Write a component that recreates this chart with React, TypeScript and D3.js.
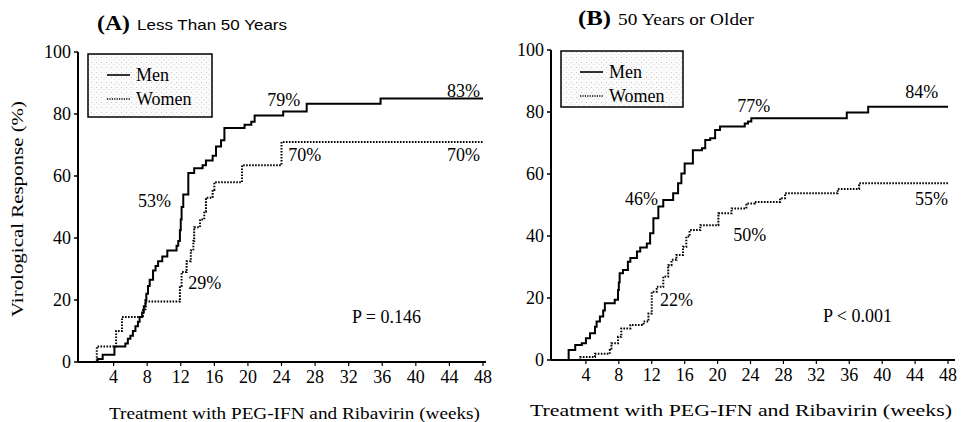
import React from 'react';
import * as d3 from 'd3';

type Pt = [number, number];

// weeks on x, percent responders on y
const weekTicks = [4, 8, 12, 16, 20, 24, 28, 32, 36, 40, 44, 48];
const pctTicks = [0, 20, 40, 60, 80, 100];

const menYoung: Pt[] = [
  [0, 0], [2.1, 1], [2.7, 2.3], [4.1, 5], [5.4, 6], [5.7, 7.5], [6.0, 8.5], [6.3, 10], [6.6, 11.5],
  [6.9, 13], [7.1, 14.5], [7.4, 16], [7.6, 18], [7.8, 20], [7.9, 22], [8.1, 24.5], [8.3, 26.5],
  [8.7, 29.5], [9.0, 31], [9.3, 32.5], [9.8, 34], [10.4, 36], [11.5, 37.5], [11.7, 39], [11.9, 42.5],
  [12.0, 46], [12.1, 50], [12.3, 54], [12.9, 61], [13.6, 62.5], [14.6, 63.5], [15, 65], [15.8, 66.5],
  [16.2, 69.5], [16.8, 71.5], [17.2, 75.5], [19.6, 76.5], [20.4, 77.5], [20.8, 79.5], [24.2, 80.8],
  [27, 83.3], [35.8, 85], [48, 85],
];
const womenYoung: Pt[] = [
  [0, 0], [2, 5], [4.3, 10], [5.0, 14.5], [7.5, 17], [7.8, 19.5], [11.9, 24.5], [12.1, 29], [12.7, 32.5],
  [13.2, 36], [13.5, 39], [13.6, 43.5], [14.3, 46], [14.8, 48.5], [15, 53], [15.8, 55.5], [16, 58],
  [19.3, 63.5], [24, 71], [48, 71],
];
const menOld: Pt[] = [
  [0, 0], [1.9, 3.2], [2.7, 4.8], [3.5, 5.4], [4.0, 7], [4.5, 8.6], [5.1, 10.7], [5.3, 12.4], [5.7, 14],
  [6.1, 16], [6.3, 18.3], [7.5, 19.4], [7.9, 22.6], [8.0, 25], [8.1, 28], [8.5, 29], [9.1, 31.7],
  [9.4, 32.9], [10.2, 35], [10.6, 36.3], [11.4, 37.6], [11.8, 40.9], [12.2, 45.7], [12.8, 49.5],
  [13.4, 51.6], [14.6, 53.8], [15.2, 57], [15.6, 60.2], [16, 63.4], [17, 67.7], [18.1, 68.3], [18.5, 71],
  [19.1, 71.5], [19.7, 74.2], [20.3, 75.3], [23.3, 76.3], [23.7, 76.9], [24.1, 78], [35.7, 79.8],
  [38.3, 81.7], [48, 81.7],
];
const womenOld: Pt[] = [
  [0, 0], [3.3, 1], [5.1, 2], [6.9, 3.2], [7.1, 5.4], [7.9, 7.5], [8.3, 10.2], [9.4, 11.3], [11, 12.4],
  [11.6, 15], [12, 22], [12.6, 23.6], [13.4, 26.9], [14, 30.6], [14.4, 32.3], [15, 33.9], [15.8, 36.5],
  [16.2, 39.8], [16.6, 41.9], [17.9, 43.5], [20.1, 47.3], [21.7, 48.9], [23.5, 50.5], [24.5, 51],
  [27.6, 52.2], [28.2, 53.8], [34.6, 55.2], [37.2, 57], [48, 57],
];

type Note = { text: string; week: number; pct: number };
const notesYoung: Note[] = [
  { text: '83%', week: 43.7, pct: 85.5 },
  { text: '79%', week: 22.3, pct: 82.6 },
  { text: '53%', week: 6.9, pct: 50 },
  { text: '70%', week: 24.8, pct: 64.8 },
  { text: '70%', week: 43.7, pct: 64.8 },
  { text: '29%', week: 12.9, pct: 23.5 },
  { text: 'P = 0.146', week: 32.4, pct: 12.6 },
];
const notesOld: Note[] = [
  { text: '77%', week: 22.4, pct: 80 },
  { text: '84%', week: 42.8, pct: 84.5 },
  { text: '46%', week: 8.75, pct: 50 },
  { text: '50%', week: 21.9, pct: 38.4 },
  { text: '55%', week: 44, pct: 50 },
  { text: '22%', week: 13, pct: 17.4 },
  { text: 'P < 0.001', week: 32.8, pct: 12.3 },
];

const serif = '"Liberation Serif", "DejaVu Serif", serif';
const sans = '"Liberation Sans", Arial, sans-serif';

interface PanelProps {
  letter: string;
  subtitle: string;
  subtitleFont: string;
  subtitleLen: number;
  x0: number; x1: number; y0: number; y1: number;
  axisEnd: number;
  men: Pt[];
  women: Pt[];
  notes: Note[];
  legend: { x: number; y: number; w: number; h: number };
  titleX: number;
  titleY: number;
  xTitleStart: number;
  xTitleLen: number;
  xTitleY: number;
  yTitle?: boolean;
}

const Panel: React.FC<PanelProps> = (p) => {
  const x = d3.scaleLinear().domain([0, 48]).range([p.x0, p.x1]);
  const y = d3.scaleLinear().domain([0, 100]).range([p.y0, p.y1]);
  const line = d3.line<Pt>().x(d => x(d[0])).y(d => y(d[1])).curve(d3.curveStepAfter);
  const axisX = x(0) - 2;
  const lg = p.legend;

  return (
    <g>
      {/* title */}
      <text x={p.titleX} y={p.titleY} fontFamily={serif} fontSize={20} fontWeight="bold"
        textLength={33} lengthAdjust="spacingAndGlyphs">({p.letter})</text>
      <text x={p.titleX + 40} y={p.titleY} fontFamily={p.subtitleFont} fontSize={p.subtitleFont === sans ? 15 : 16.5}
        textLength={p.subtitleLen} lengthAdjust="spacingAndGlyphs">
        {p.subtitle}
      </text>

      {/* legend */}
      <rect x={lg.x} y={lg.y} width={lg.w} height={lg.h} fill="url(#stipple)" stroke="#000" strokeWidth={1.5} />
      <line x1={lg.x + 19} x2={lg.x + 42} y1={lg.y + 21} y2={lg.y + 21} stroke="#000" strokeWidth={1.6} />
      <text x={lg.x + 48} y={lg.y + 27} fontFamily={serif} fontSize={18}>Men</text>
      <line x1={lg.x + 19} x2={lg.x + 42} y1={lg.y + 45} y2={lg.y + 45} stroke="#000" strokeWidth={1.4} strokeDasharray="1.2,1.2" />
      <text x={lg.x + 48} y={lg.y + 51} fontFamily={serif} fontSize={18}>Women</text>

      {/* curves */}
      <path d={line(p.women) ?? ''} fill="none" stroke="#000" strokeWidth={2} strokeDasharray="1.6,1.4" />
      <path d={line(p.men) ?? ''} fill="none" stroke="#000" strokeWidth={2} />

      {/* axes */}
      <line x1={axisX} x2={axisX} y1={y(100)} y2={y(0)} stroke="#000" strokeWidth={2} />
      <line x1={axisX} x2={p.axisEnd} y1={y(0)} y2={y(0)} stroke="#000" strokeWidth={2} />
      {pctTicks.map(t => (
        <g key={t}>
          <line x1={axisX - 4} x2={axisX} y1={y(t)} y2={y(t)} stroke="#000" strokeWidth={1.5} />
          <text x={axisX - 7} y={y(t)} dy="0.35em" textAnchor="end" fontFamily={serif} fontSize={18}>{t}</text>
        </g>
      ))}
      {weekTicks.map(t => (
        <g key={t}>
          <line x1={x(t)} x2={x(t)} y1={y(0)} y2={y(0) + 4} stroke="#000" strokeWidth={1.2} />
          <text x={x(t)} y={y(0) + 21} textAnchor="middle" fontFamily={serif} fontSize={18}>{t}</text>
        </g>
      ))}

      {/* annotations */}
      {p.notes.map((n, i) => (
        <text key={i} x={x(n.week)} y={y(n.pct)} fontFamily={serif} fontSize={18}>{n.text}</text>
      ))}

      <text x={p.xTitleStart} y={p.xTitleY} fontFamily={serif} fontSize={16.5}
        textLength={p.xTitleLen} lengthAdjust="spacingAndGlyphs">
        Treatment with PEG-IFN and Ribavirin (weeks)
      </text>
      {p.yTitle && (
        <text transform={`translate(23,${(y(0) + y(100)) / 2 + 2}) rotate(-90)`} textAnchor="middle"
          fontFamily={serif} fontSize={17} textLength={216} lengthAdjust="spacingAndGlyphs">
          Virological Response (%)
        </text>
      )}
    </g>
  );
};

export default function App() {
  return (
    <svg width={964} height={422} style={{ position: 'absolute', left: 0, top: 0, background: '#fff' }}>
      <defs>
        <pattern id="stipple" width="5" height="5" patternUnits="userSpaceOnUse">
          <rect width="5" height="5" fill="#fbfbfb" />
          <rect x="1" y="2" width="1" height="1" fill="#c8c8c8" />
          <rect x="3.5" y="4" width="1" height="1" fill="#dcdcdc" />
        </pattern>
      </defs>
      <Panel
        letter="A" subtitle="Less Than 50 Years" subtitleFont={sans} subtitleLen={150}
        x0={80} x1={483} y0={362} y1={52} axisEnd={486}
        men={menYoung} women={womenYoung} notes={notesYoung}
        legend={{ x: 88, y: 54, w: 124, h: 63 }}
        titleX={97} titleY={30}
        xTitleStart={109} xTitleLen={371} xTitleY={419}
        yTitle
      />
      <Panel
        letter="B" subtitle="50 Years or Older" subtitleFont={serif} subtitleLen={136}
        x0={553} x1={948} y0={360} y1={50} axisEnd={955}
        men={menOld} women={womenOld} notes={notesOld}
        legend={{ x: 561, y: 51, w: 122, h: 56 }}
        titleX={578} titleY={25}
        xTitleStart={530} xTitleLen={422} xTitleY={416}
      />
    </svg>
  );
}
